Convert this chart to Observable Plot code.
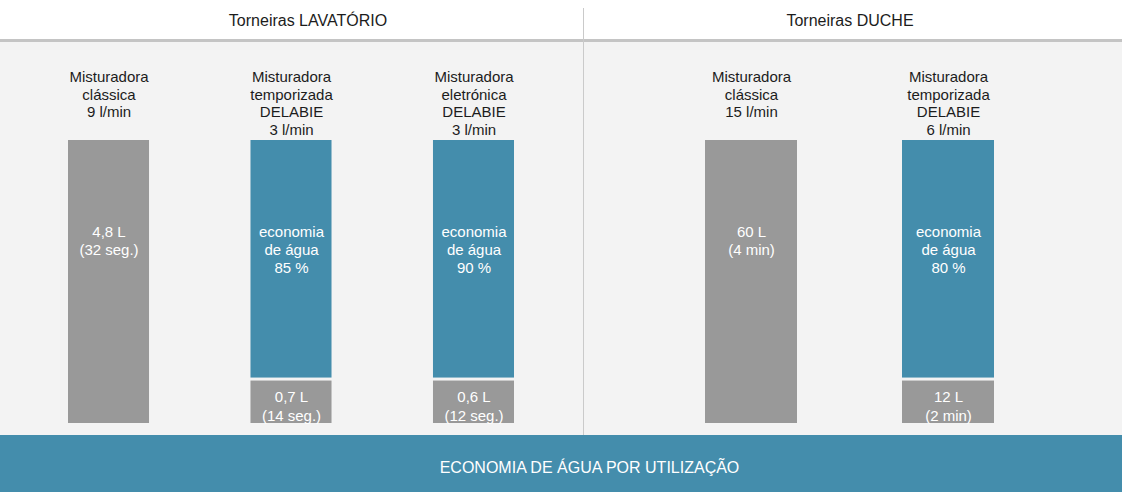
<!DOCTYPE html>
<html>
<head>
<meta charset="utf-8">
<script src="https://cdn.jsdelivr.net/npm/d3@7"></script>
<script src="https://cdn.jsdelivr.net/npm/@observablehq/plot@0.6"></script>
<style>
  html, body { margin: 0; padding: 0; background: #ffffff; }
  #wrap { position: relative; width: 1122px; height: 492px; font-family: "Liberation Sans", Arial, sans-serif; overflow: hidden; }
  #header { position: absolute; left: 0; top: 0; width: 1122px; height: 39px; background: #ffffff; border-bottom: 3px solid #c4c4c4; }
  .gtitle { position: absolute; top: 13px; line-height: 16px; font-size: 16px; color: #1c1c1c; transform: translateX(-50%); white-space: nowrap; letter-spacing: 0px; }
  #panels { position: absolute; left: 0; top: 42px; width: 1122px; height: 393px; display: flex; background: #f3f3f3; }
  #sep { position: absolute; left: 583px; top: 8px; width: 1px; height: 427px; background: #cacaca; }
  #footer { position: absolute; left: 0; top: 435px; width: 1122px; height: 57px; box-sizing: border-box; padding-top: 8px; padding-left: 57px; line-height: 49px; background: #448dac; color: #ffffff; text-align: center; font-size: 16px; white-space: nowrap; }
</style>
</head>
<body>
<div id="wrap">
  <div id="header"></div>
  <div id="panels"></div>
  <div id="sep"></div>
  <div id="footer"></div>
</div>
<script>
// ---- data ----
const groups = ["Torneiras LAVATÓRIO", "Torneiras DUCHE"];
const tapNames = [
  "Misturadora\nclássica\n9 l/min",
  "Misturadora\ntemporizada\nDELABIE\n3 l/min",
  "Misturadora\neletrónica\nDELABIE\n3 l/min",
  "Misturadora\nclássica\n15 l/min",
  "Misturadora\ntemporizada\nDELABIE\n6 l/min"
];
const tapGroup = [0, 0, 0, 1, 1];
// share of the bar drawn as water used (grey); the rest is the saving (teal)
const usedShare = [100, 15, 15, 100, 15];
const savingPct = [null, 85, 90, null, 80];
const usageLabels = ["4,8 L\n(32 seg.)", "0,7 L\n(14 seg.)", "0,6 L\n(12 seg.)", "60 L\n(4 min)", "12 L\n(2 min)"];
const footerText = "ECONOMIA DE ÁGUA POR UTILIZAÇÃO";

const GREY = "#999999", TEAL = "#448dac", INK = "#1c1c1c";

const rows = tapNames.map((tap, i) => ({
  tap, group: tapGroup[i], used: usedShare[i], saving: savingPct[i], usage: usageLabels[i]
}));

// header titles
const header = document.getElementById("header");
const titleX = [308, 850];
groups.forEach((g, i) => {
  const s = document.createElement("span");
  s.className = "gtitle";
  s.style.left = titleX[i] + "px";
  s.textContent = g;
  header.appendChild(s);
});
document.getElementById("footer").textContent = footerText;

function panel(gi, width, marginLeft, marginRight, pad) {
  const data = rows.filter(d => d.group === gi);
  const saved = data.filter(d => d.saving != null);
  const full = data.filter(d => d.saving == null);
  return Plot.plot({
    width, height: 393,
    marginTop: 98, marginBottom: 12, marginLeft, marginRight,
    x: { type: "band", domain: data.map(d => d.tap), paddingInner: pad, paddingOuter: 0, round: false, axis: null },
    y: { domain: [0, 100], axis: null },
    style: { background: "#f3f3f3", fontFamily: "Liberation Sans, Arial, sans-serif", overflow: "visible" },
    marks: [
      Plot.barY(data, { x: "tap", y1: 0, y2: "used", fill: GREY }),
      Plot.barY(saved, { x: "tap", y1: "used", y2: 100, fill: TEAL, insetBottom: 3 }),
      Plot.text(data, { x: "tap", text: "tap", frameAnchor: "top", dy: -71, lineAnchor: "top", fontSize: 15, lineHeight: 1.18, fill: INK }),
      Plot.text(full, { x: "tap", text: "usage", frameAnchor: "top", dy: 84, lineAnchor: "top", fontSize: 15, lineHeight: 1.2, fill: "#ffffff" }),
      Plot.text(saved, { x: "tap", text: d => "economia\nde água\n" + d.saving + " %", frameAnchor: "top", dy: 84, lineAnchor: "top", fontSize: 15, lineHeight: 1.2, fill: "#ffffff" }),
      Plot.text(saved, { x: "tap", text: "usage", frameAnchor: "top", dy: 248, lineAnchor: "top", fontSize: 15, lineHeight: 1.25, fill: "#ffffff" })
    ]
  });
}

const panels = document.getElementById("panels");
panels.appendChild(panel(0, 583, 68, 69, 0.556));
panels.appendChild(panel(1, 539, 122, 128, 0.533));
</script>
</body>
</html>
